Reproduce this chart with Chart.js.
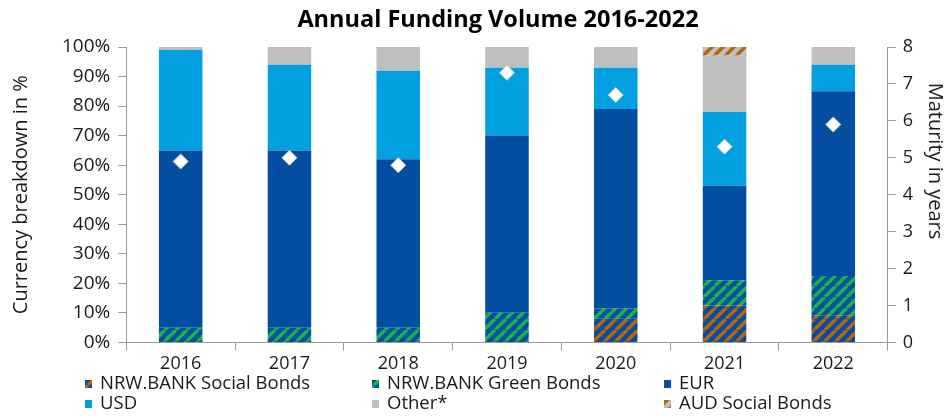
<!DOCTYPE html>
<html>
<head>
<meta charset="utf-8">
<title>Annual Funding Volume 2016-2022</title>
<script src="https://cdn.jsdelivr.net/npm/chart.js@4.4.0/dist/chart.umd.min.js"></script>
<style>
  html, body { margin: 0; padding: 0; background: #fff; }
  #wrap { width: 949px; height: 416px; }
</style>
</head>
<body>
<div id="wrap"><canvas id="fundingChart" width="949" height="416"></canvas></div>
<script>
// Share of annual funding per currency / bond type, in % (stacked bottom to top)
const years = ['2016', '2017', '2018', '2019', '2020', '2021', '2022'];
const socialBonds = [0, 0, 0, 0, 8, 12.5, 9];
const greenBonds = [5, 5, 5, 10, 3.5, 8.5, 13.5];
const eur = [60, 60, 57, 60, 67.5, 32, 62.5];
const usd = [34, 29, 30, 23, 14, 25, 9];
const other = [1, 6, 8, 7, 7, 19, 6];
const audSocial = [0, 0, 0, 0, 0, 3, 0];
// Average maturity in years (right axis)
const maturity = [4.9, 5.0, 4.8, 7.3, 6.7, 5.3, 5.9];

const percentTicks = [0, 10, 20, 30, 40, 50, 60, 70, 80, 90, 100];

const DARK_BLUE = '#034ea0';
const LIGHT_BLUE = '#00a0e1';
const GREY = '#bfbfbf';
const GREEN = '#19b34a';
const ORANGE = '#b8650c';
const AXIS = '#9a9a9a';

// diagonal "/" stripes on a coloured background
function hatch(bg, stripe) {
    const size = 11;
    const c = document.createElement('canvas');
    c.width = size;
    c.height = size;
    const g = c.getContext('2d');
    g.fillStyle = bg;
    g.fillRect(0, 0, size, size);
    g.strokeStyle = stripe;
    g.lineWidth = 3.5;
    g.beginPath();
    for (const k of [-size, 0, size]) {
        g.moveTo(k, size);
        g.lineTo(k + size, 0);
    }
    g.stroke();
    return g.createPattern(c, 'repeat');
}

const socialFill = hatch(DARK_BLUE, ORANGE);
const greenFill = hatch(DARK_BLUE, GREEN);
const audFill = hatch(GREY, ORANGE);

const FONT = "'Open Sans', 'DejaVu Sans', sans-serif";

// Chart title plus the right-hand axis title, placed by hand
const heading = {
    id: 'heading',
    afterDraw(chart, args, opts) {
        const ctx = chart.ctx;
        ctx.save();
        ctx.font = 'bold 23.5px ' + FONT;
        ctx.fillStyle = '#000';
        ctx.textAlign = 'center';
        ctx.textBaseline = 'middle';
        ctx.fillText(opts.text, opts.x, opts.y);

        ctx.font = '20px ' + FONT;
        ctx.fillStyle = '#1a1a1a';
        ctx.translate(opts.rightTitleX, opts.rightTitleY);
        ctx.rotate(Math.PI / 2);
        ctx.fillText(opts.rightTitle, 0, 0);
        ctx.restore();
    }
};

// Legend in a fixed three-column grid under the axis
const gridLegend = {
    id: 'gridLegend',
    afterDraw(chart, args, opts) {
        const ctx = chart.ctx;
        ctx.save();
        ctx.font = opts.fontSize + 'px ' + FONT;
        ctx.textBaseline = 'middle';
        ctx.textAlign = 'left';
        const bars = chart.data.datasets.filter(ds => ds.type !== 'line');
        bars.forEach((ds, i) => {
            const x = opts.columns[i % 3];
            const y = opts.rows[Math.floor(i / 3)];
            ctx.fillStyle = ds.backgroundColor;
            ctx.fillRect(x, y - 4, 7, 8);
            ctx.fillStyle = '#1a1a1a';
            ctx.fillText(ds.label, x + 15, y);
        });
        ctx.restore();
    }
};

const barDefaults = { type: 'bar', borderWidth: 0, order: 1, yAxisID: 'y' };

new Chart(document.getElementById('fundingChart'), {
    data: {
        labels: years,
        datasets: [
            { ...barDefaults, label: 'NRW.BANK Social Bonds', data: socialBonds, backgroundColor: socialFill },
            { ...barDefaults, label: 'NRW.BANK Green Bonds', data: greenBonds, backgroundColor: greenFill },
            { ...barDefaults, label: 'EUR', data: eur, backgroundColor: DARK_BLUE },
            { ...barDefaults, label: 'USD', data: usd, backgroundColor: LIGHT_BLUE },
            { ...barDefaults, label: 'Other*', data: other, backgroundColor: GREY },
            { ...barDefaults, label: 'AUD Social Bonds', data: audSocial, backgroundColor: audFill },
            {
                type: 'line',
                label: 'Maturity',
                data: maturity,
                yAxisID: 'y1',
                order: 0,
                showLine: false,
                pointStyle: 'rectRot',
                pointRadius: 7.5,
                pointBackgroundColor: '#ffffff',
                pointBorderColor: '#cccccc',
                pointBorderWidth: 1
            }
        ]
    },
    options: {
        responsive: false,
        animation: false,
        layout: { padding: { top: 47, bottom: 38, left: 4, right: 29 } },
        datasets: { bar: { categoryPercentage: 1, barPercentage: 0.4 } },
        plugins: {
            legend: { display: false },
            tooltip: { enabled: false },
            heading: {
                text: 'Annual Funding Volume 2016-2022', x: 498, y: 20,
                rightTitle: 'Maturity in years', rightTitleX: 935, rightTitleY: 161
            },
            gridLegend: { columns: [85, 372, 664], rows: [384, 404], fontSize: 18.5 }
        },
        scales: {
            x: {
                stacked: true,
                grid: { display: true, drawOnChartArea: false, tickLength: 8, color: AXIS, offset: true },
                border: { color: AXIS, width: 1 },
                ticks: { font: { family: FONT, size: 18 }, color: '#1a1a1a', padding: 3 }
            },
            y: {
                stacked: true,
                position: 'left',
                min: 0,
                max: 100,
                afterBuildTicks: axis => { axis.ticks = percentTicks.map(v => ({ value: v })); },
                grid: { drawOnChartArea: false, tickLength: 8, color: AXIS },
                border: { color: AXIS, width: 1 },
                ticks: { font: { family: FONT, size: 19 }, color: '#1a1a1a', padding: 8, callback: v => v + '%' },
                title: {
                    display: true,
                    text: 'Currency breakdown in %',
                    font: { family: FONT, size: 20 },
                    color: '#1a1a1a',
                    padding: { top: 5, bottom: 21 }
                }
            },
            y1: {
                position: 'right',
                min: 0,
                max: 8,
                ticks: { stepSize: 1, font: { family: FONT, size: 18 }, color: '#1a1a1a', padding: 7 },
                grid: { drawOnChartArea: false, tickLength: 8, color: AXIS },
                border: { color: AXIS, width: 1 }
            }
        }
    },
    plugins: [heading, gridLegend]
});
</script>
</body>
</html>
